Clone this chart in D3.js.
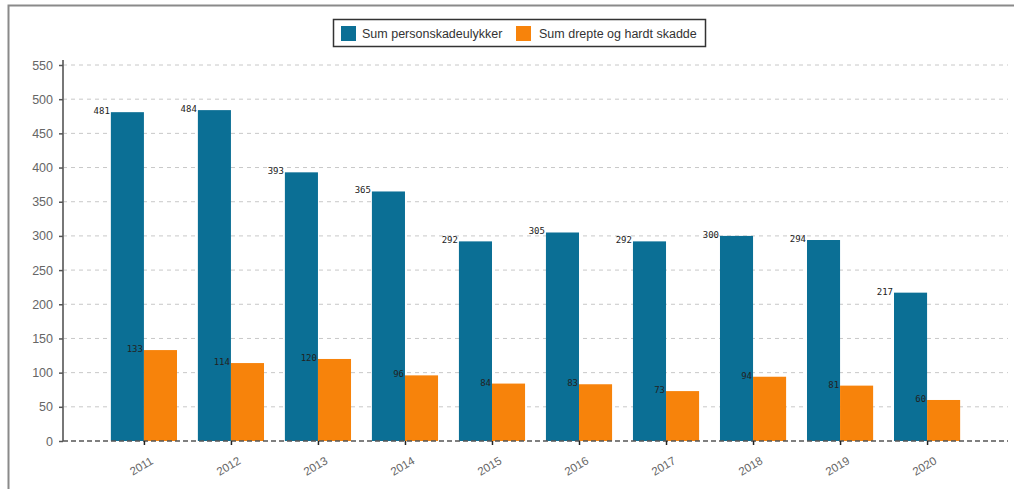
<!DOCTYPE html>
<html><head><meta charset="utf-8">
<script src="https://cdn.jsdelivr.net/npm/d3@7"></script>
<style>body{margin:0;background:#fff;}svg{display:block;}</style>
</head><body>
<svg id="chart" width="1014" height="489"></svg>
<script>
const years = ["2011","2012","2013","2014","2015","2016","2017","2018","2019","2020"];
const seriesNames = ["Sum personskadeulykker","Sum drepte og hardt skadde"];
const personskade = [481,484,393,365,292,305,292,300,294,217];
const drepte = [133,114,120,96,84,83,73,94,81,60];
const yTicks = [0,50,100,150,200,250,300,350,400,450,500,550];
const colors = ["#0b6f95","#f7830b"];

(function(){
const svg = d3.select("#chart");
const pLeft = 63, pRight = 1008, pTop = 65, pBottom = 441;

// outer frame
svg.append("path").attr("d","M8.5,489 V5.5 H1014").attr("fill","none").attr("stroke","#8a8a8a").attr("stroke-width",2);

const x = d3.scaleBand().domain(years).range([pLeft,pRight]).paddingInner(0.24).paddingOuter(0.55);
const xs = d3.scaleBand().domain([0,1]).range([0,x.bandwidth()]);
const y = d3.scaleLinear().domain([0,550]).range([pBottom,pTop]);

// gridlines
svg.append("g").selectAll("line").data(yTicks.filter(d=>d>0)).join("line")
  .attr("x1",pLeft).attr("x2",pRight).attr("y1",d=>y(d)).attr("y2",d=>y(d))
  .attr("stroke","#c8c8c8").attr("stroke-dasharray","4,4").attr("stroke-width",1);

// y axis
const ya = svg.append("g").attr("transform",`translate(${pLeft},0)`)
  .call(d3.axisLeft(y).tickValues(yTicks).tickSize(4).tickPadding(6));
ya.select(".domain").attr("stroke","#777").attr("stroke-width",2).attr("d",`M0,${pTop-5}V${pBottom}`);
ya.selectAll(".tick line").attr("stroke","#555").attr("stroke-width",1.5);
ya.selectAll(".tick text").attr("fill","#666").attr("font-family","Liberation Sans, Arial, sans-serif").attr("font-size",12.5);

// bars
const data = years.map((yr,i)=>({yr, vals:[personskade[i], drepte[i]]}));
const groups = svg.append("g").selectAll("g").data(data).join("g")
  .attr("transform",d=>`translate(${x(d.yr)},0)`);
groups.selectAll("rect").data(d=>d.vals.map((v,k)=>({v,k}))).join("rect")
  .attr("x",d=>xs(d.k)).attr("width",xs.bandwidth())
  .attr("y",d=>y(d.v)).attr("height",d=>y(0)-y(d.v))
  .attr("fill",d=>colors[d.k]);
groups.selectAll("text").data(d=>d.vals.map((v,k)=>({v,k}))).join("text")
  .attr("x",d=>xs(d.k)-1).attr("y",d=>y(d.v)+2)
  .attr("text-anchor","end")
  .attr("font-family","DejaVu Sans Mono, monospace").attr("font-size",9)
  .attr("fill","#222")
  .text(d=>d.v);

// x axis
svg.append("line").attr("x1",pLeft).attr("x2",pRight).attr("y1",pBottom).attr("y2",pBottom)
  .attr("stroke","#555").attr("stroke-width",1.5).attr("stroke-dasharray","5,3");
const xa = svg.append("g").attr("transform",`translate(0,${pBottom})`)
  .call(d3.axisBottom(d3.scalePoint().domain(years).range([x(years[0])+x.bandwidth()/2, x(years[9])+x.bandwidth()/2])).tickSize(4).tickPadding(10));
xa.select(".domain").remove();
xa.selectAll(".tick line").attr("stroke","#222").attr("stroke-width",1.5);
xa.selectAll(".tick text").attr("fill","#666").attr("font-family","Liberation Sans, Arial, sans-serif").attr("font-size",11.5)
  .attr("text-anchor","middle").attr("y",0).attr("dy","0.35em")
  .attr("transform","translate(-3,25) rotate(-30)");

// legend
const lg = svg.append("g");
lg.append("rect").attr("x",333.5).attr("y",19.5).attr("width",372).attr("height",27)
  .attr("fill","#fff").attr("stroke","#333").attr("stroke-width",1.5);
const items = [{x:341, tx:362},{x:516, tx:539}];
seriesNames.forEach((n,i)=>{
  lg.append("rect").attr("x",items[i].x).attr("y",26).attr("width",15).attr("height",15).attr("fill",colors[i]);
  lg.append("text").attr("x",items[i].tx).attr("y",38).attr("font-family","Liberation Sans, Arial, sans-serif")
    .attr("font-size",12.5).attr("fill","#333").text(n);
});
})();
</script>
</body></html>
